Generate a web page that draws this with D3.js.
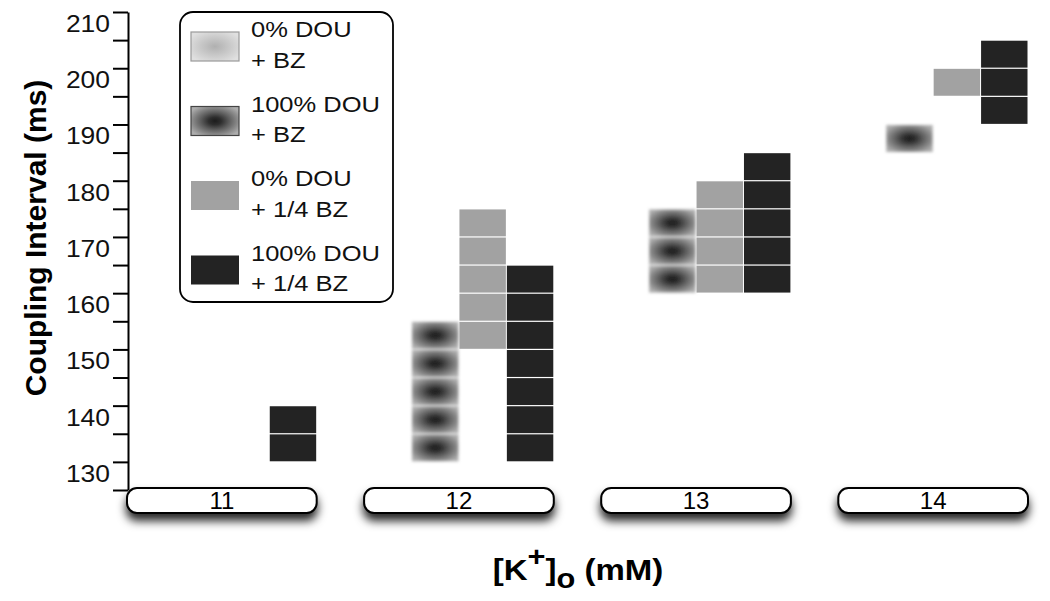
<!DOCTYPE html>
<html>
<head>
<meta charset="utf-8">
<script src="https://cdn.jsdelivr.net/npm/d3@7"></script>
<style>
  html, body { margin: 0; padding: 0; background: #fff; }
  svg { display: block; font-family: "Liberation Sans", Arial, Helvetica, sans-serif; }
</style>
</head>
<body>
<svg id="chart" width="1050" height="601"></svg>
<script>
// ---------------- DATA ----------------
const categories = ["11", "12", "13", "14"];          // [K+]o (mM)
const seriesNames = ["0% DOU\n+ BZ", "100% DOU\n+ BZ", "0% DOU\n+ 1/4 BZ", "100% DOU\n+ 1/4 BZ"];
const binWidth = 5;                                     // ms per cell
// lower edge (ms) of every occupied cell, one list per [K+]o group
const dou0BZ     = [[], [], [], []];
const dou100BZ   = [[], [130, 135, 140, 145, 150], [160, 165, 170], [185]];
const dou0QBZ    = [[], [150, 155, 160, 165, 170], [160, 165, 170, 175], [195]];
const dou100QBZ  = [[130, 135], [130, 135, 140, 145, 150, 155, 160], [160, 165, 170, 175, 180], [190, 195, 200]];
const yTickValues  = [125, 130, 135, 140, 145, 150, 155, 160, 165, 170, 175, 180, 185, 190, 195, 200, 205, 210];
const yTickLabels  = [130, 140, 150, 160, 170, 180, 190, 200, 210];

const seriesData = [dou0BZ, dou100BZ, dou0QBZ, dou100QBZ];

// ---------------- LAYOUT ----------------
const svg = d3.select("#chart");
const x = d3.scaleBand().domain(categories).range([127, 1028]).paddingInner(0.2).paddingOuter(0);
const xs = d3.scaleBand().domain(d3.range(4)).range([0, x.bandwidth()]);
const y = d3.scaleLinear().domain([125, 210]).range([490, 12]);

const defs = svg.append("defs");
const rg = defs.append("radialGradient").attr("id", "darkGrad").attr("cx", "50%").attr("cy", "50%").attr("r", "60%");
[[0, "#1c1c1c"], [0.22, "#2e2e2e"], [0.5, "#5e5e5e"], [0.78, "#8a8a8a"], [1, "#adadad"]]
  .forEach(([o, c]) => rg.append("stop").attr("offset", o).attr("stop-color", c));
const lg = defs.append("radialGradient").attr("id", "lightGrad").attr("cx", "50%").attr("cy", "50%").attr("r", "60%");
[[0, "#b0b0b0"], [0.5, "#c8c8c8"], [1, "#e0e0e0"]]
  .forEach(([o, c]) => lg.append("stop").attr("offset", o).attr("stop-color", c));
const blur = defs.append("filter").attr("id", "soft").attr("x", "-20%").attr("y", "-20%").attr("width", "140%").attr("height", "140%");
blur.append("feGaussianBlur").attr("stdDeviation", 1.4);
const shadow = defs.append("filter").attr("id", "shadow").attr("x", "-10%").attr("y", "-50%").attr("width", "120%").attr("height", "250%");
shadow.append("feDropShadow").attr("dx", 0).attr("dy", 7).attr("stdDeviation", 5)
  .attr("flood-color", "#000").attr("flood-opacity", 0.85);

const fills = ["url(#lightGrad)", "url(#darkGrad)", "#a2a2a2", "#232323"];

// ---------------- CELLS ----------------
const cellG = svg.append("g");
seriesData.forEach((groups, si) => {
  const g = cellG.append("g");
  if (si < 2) g.attr("filter", "url(#soft)");
  groups.forEach((bins, ci) => {
    g.selectAll(null).data(bins).join("rect")
      .attr("x", x(categories[ci]) + xs(si) + 0.5)
      .attr("width", xs.bandwidth() - 1)
      .attr("y", d => y(d + binWidth) + 0.6)
      .attr("height", d => y(d) - y(d + binWidth) - 1.2)
      .attr("fill", fills[si]);
  });
});

// ---------------- Y AXIS ----------------
const axisG = svg.append("g").attr("transform", "translate(128,0)")
  .call(d3.axisLeft(y).tickValues(yTickValues).tickSize(15).tickSizeOuter(0).tickFormat(""));
axisG.select(".domain").attr("stroke", "#000").attr("stroke-width", 2);
axisG.selectAll(".tick line").attr("stroke", "#000").attr("stroke-width", 2);

svg.append("g").selectAll("text").data(yTickLabels).join("text")
  .attr("transform", d => `translate(110,${y(d) + 20}) scale(1.15,1)`)
  .attr("text-anchor", "end")
  .attr("font-size", 23)
  .attr("fill", "#111")
  .text(d => d);

svg.append("text")
  .attr("transform", "translate(46,238) rotate(-90)")
  .attr("text-anchor", "middle")
  .attr("font-size", 30)
  .attr("font-weight", "bold")
  .text("Coupling Interval (ms)");

// ---------------- CATEGORY BOXES ----------------
const catG = svg.append("g").selectAll("g").data(categories).join("g");
catG.append("rect")
  .attr("x", d => x(d)).attr("y", 488)
  .attr("width", x.bandwidth()).attr("height", 25)
  .attr("rx", 10).attr("ry", 10)
  .attr("fill", "#fff").attr("stroke", "#000").attr("stroke-width", 2)
  .attr("filter", "url(#shadow)");
catG.append("text")
  .attr("x", d => x(d) + x.bandwidth() / 2).attr("y", 509)
  .attr("text-anchor", "middle")
  .attr("font-size", 24)
  .text(d => d);

// X title
const xt = svg.append("text")
  .attr("transform", "translate(578,580) scale(1.1,1)")
  .attr("text-anchor", "middle")
  .attr("font-size", 30)
  .attr("font-weight", "bold");
xt.append("tspan").text("[K");
xt.append("tspan").attr("dy", -14).attr("font-size", 28).text("+");
xt.append("tspan").attr("dy", 14).text("]");
xt.append("tspan").attr("dy", 8).attr("font-size", 28).text("o");
xt.append("tspan").attr("dy", -8).text(" (mM)");

// ---------------- LEGEND ----------------
const leg = svg.append("g");
leg.append("rect").attr("x", 180).attr("y", 12).attr("width", 213).attr("height", 290)
  .attr("rx", 13).attr("ry", 13).attr("fill", "#fff").attr("stroke", "#000").attr("stroke-width", 1.8);
const strokes = ["#9a9a9a", "#444", "none", "none"];
const entry = leg.selectAll("g.e").data(seriesNames).join("g").attr("class", "e")
  .attr("transform", (d, i) => `translate(0,${37 + i * 74.5})`);
entry.append("rect")
  .attr("x", 191).attr("y", -5).attr("width", 48).attr("height", 29)
  .attr("fill", (d, i) => fills[i])
  .attr("stroke", (d, i) => strokes[i]).attr("stroke-width", 1.2);
entry.append("text")
  .attr("transform", "translate(251,0) scale(1.16,1)")
  .attr("font-size", 22)
  .attr("fill", "#111")
  .selectAll("tspan").data(d => d.split("\n")).join("tspan")
  .attr("x", 0).attr("y", (d, j) => j * 31)
  .text(d => d);
</script>
</body>
</html>
